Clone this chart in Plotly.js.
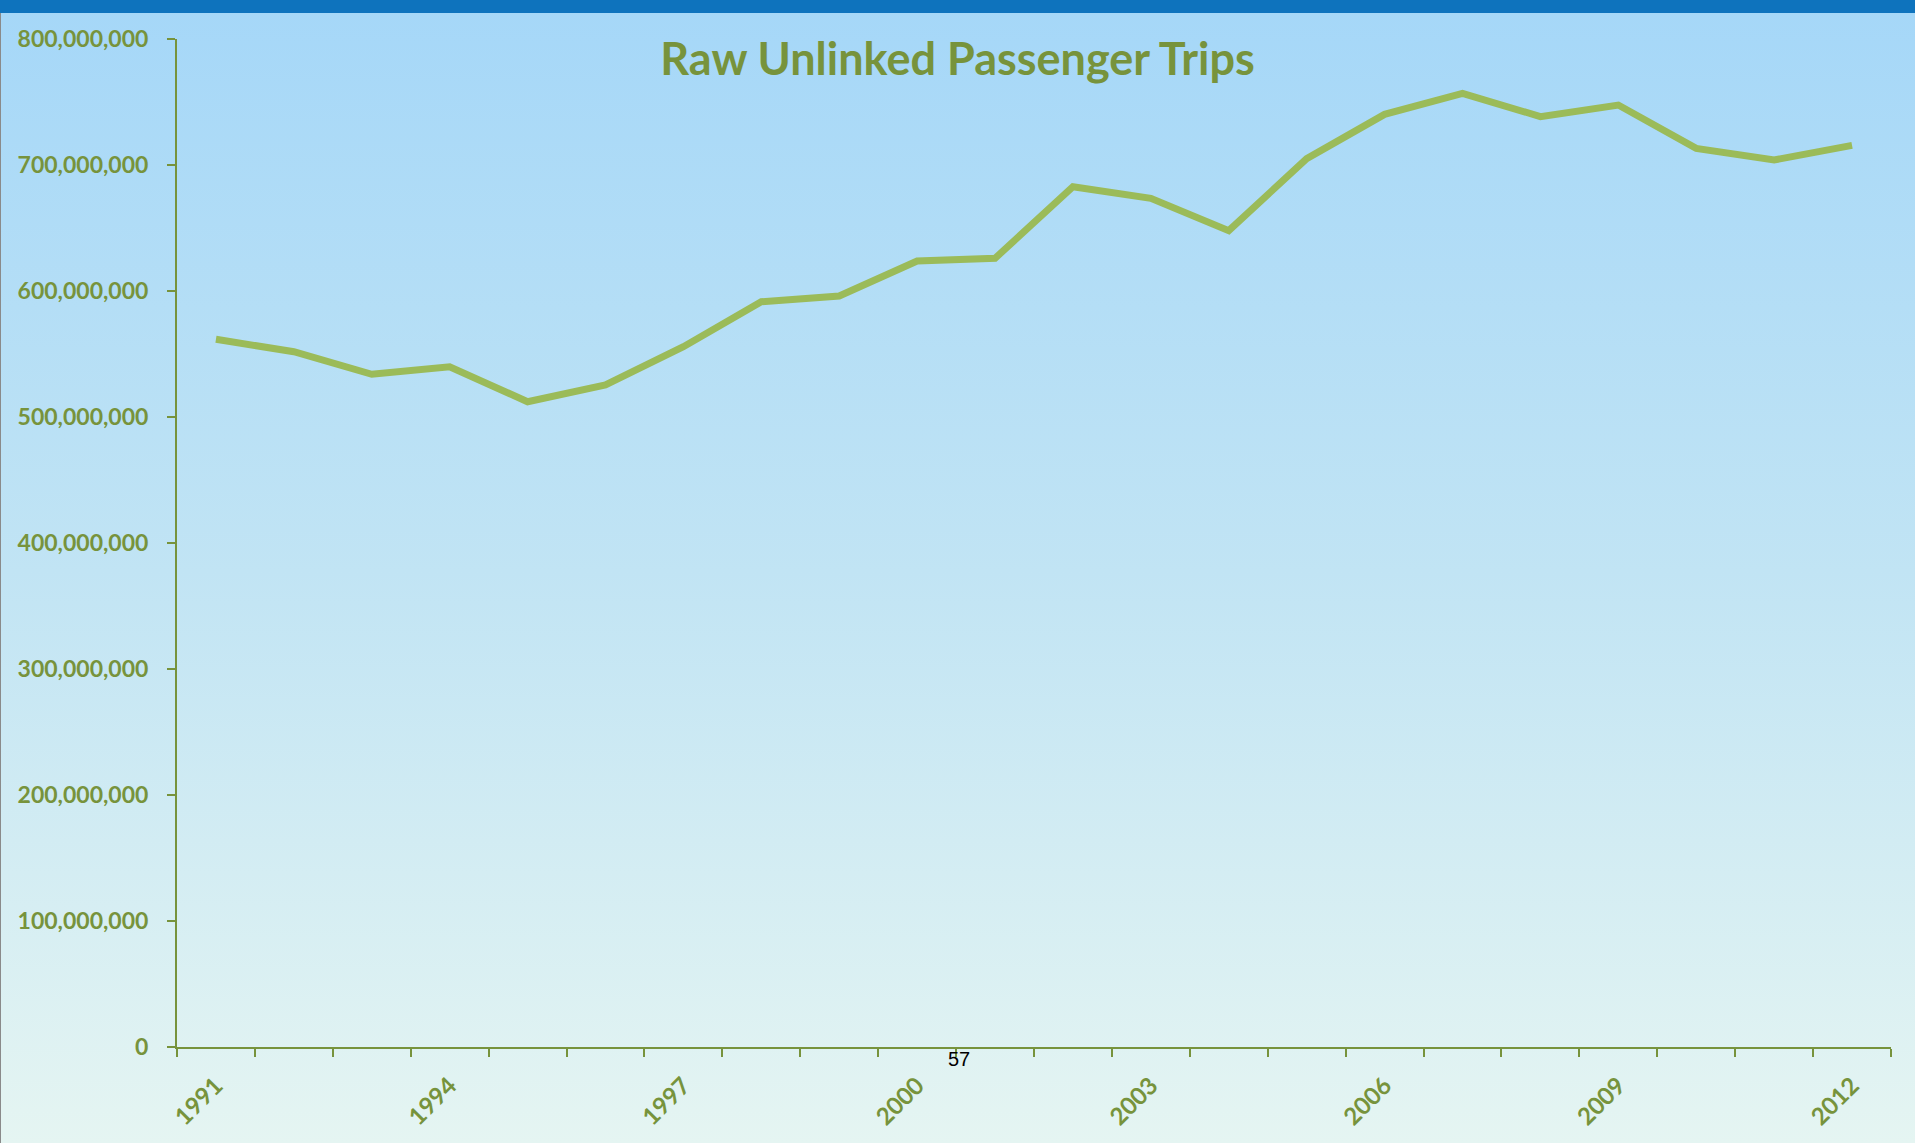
<!DOCTYPE html>
<html>
<head>
<meta charset="utf-8">
<script src="https://cdn.plot.ly/plotly-3.0.1.min.js"></script>
<style>
  html, body { margin: 0; padding: 0; width: 1915px; height: 1143px; overflow: hidden; }
  body { background: linear-gradient(to bottom, #a5d7f8 0%, #c1e4f4 50%, #e5f5f2 100%); position: relative; }
  #topbar { position: absolute; left: 0; top: 0; width: 1915px; height: 13px; background: #0e73bd; z-index: 2; }
  #leftedge { position: absolute; left: 0; top: 13px; width: 1px; height: 1130px; background: #8a8a8a; z-index: 2; }
  #chart { position: absolute; left: 0; top: 0; width: 1915px; height: 1143px; }
</style>
</head>
<body>
<div id="topbar"></div>
<div id="leftedge"></div>
<div id="chart"></div>
<script>
const years = [1991,1992,1993,1994,1995,1996,1997,1998,1999,2000,2001,2002,2003,2004,2005,2006,2007,2008,2009,2010,2011,2012];
const trips = [561700000,551800000,533900000,539900000,512100000,525400000,555800000,591500000,596000000,623800000,626000000,682800000,673500000,647900000,705000000,740200000,756900000,738400000,747600000,713200000,704000000,715600000];
const labelYears = [1991,1994,1997,2000,2003,2006,2009,2012];
const yTicks = [0,100000000,200000000,300000000,400000000,500000000,600000000,700000000,800000000];
const chartTitle = "Raw Unlinked Passenger Trips";
const slideNumber = "57";

const olive = "#77933c";
const lineGreen = "#9bbb59";
const font = "Lato, 'Open Sans', sans-serif";

// category boundaries for tick marks (Excel-style ticks between categories)
const boundaries = years.map(y => y - 0.5).concat([years[years.length - 1] + 0.5]);
const xRange = [boundaries[0], boundaries[boundaries.length - 1]];

const traces = [
  {
    x: years, y: trips, type: "scatter", mode: "lines",
    line: { color: lineGreen, width: 7, shape: "linear" },
    xaxis: "x", yaxis: "y", hoverinfo: "x+y", showlegend: false
  },
  {
    x: years, y: trips, type: "scatter", mode: "lines",
    line: { color: "rgba(0,0,0,0)", width: 0 },
    xaxis: "x2", yaxis: "y", hoverinfo: "skip", showlegend: false
  }
];

const layout = {
  width: 1915, height: 1143,
  paper_bgcolor: "rgba(0,0,0,0)", plot_bgcolor: "rgba(0,0,0,0)",
  margin: { l: 177, r: 24, t: 39, b: 96 },
  showlegend: false,
  title: {
    text: chartTitle,
    font: { family: font, size: 45, color: olive, weight: 700 },
    x: 0.5, xref: "container", xanchor: "center",
    y: 0.948, yref: "container", yanchor: "middle"
  },
  xaxis: {
    type: "linear", range: xRange,
    tickmode: "array", tickvals: boundaries, ticktext: boundaries.map(() => ""),
    showticklabels: false,
    ticks: "outside", ticklen: 8, tickwidth: 2, tickcolor: olive,
    showline: true, linecolor: olive, linewidth: 2,
    showgrid: false, zeroline: false, fixedrange: true
  },
  xaxis2: {
    type: "linear", range: xRange, overlaying: "x", anchor: "y", side: "bottom",
    tickmode: "array", tickvals: labelYears, ticktext: labelYears.map(String),
    tickangle: -45,
    ticks: "outside", ticklen: 14, tickcolor: "rgba(0,0,0,0)",
    tickfont: { family: font, size: 24, color: olive, weight: 700 },
    showline: false, showgrid: false, zeroline: false, fixedrange: true
  },
  yaxis: {
    range: [0, 800000000],
    tickmode: "array", tickvals: yTicks, tickformat: ",d",
    ticks: "outside", ticklen: 8, tickwidth: 2, tickcolor: olive,
    ticklabelstandoff: 14,
    tickfont: { family: font, size: 23, color: olive, weight: 700 },
    showline: true, linecolor: olive, linewidth: 2,
    showgrid: false, zeroline: false, fixedrange: true
  },
  annotations: [
    {
      text: slideNumber, xref: "paper", yref: "paper",
      x: 0.4563, y: -0.012, xanchor: "center", yanchor: "middle",
      showarrow: false,
      font: { family: "'Liberation Sans', Arial, sans-serif", size: 20, color: "#000000" }
    }
  ]
};

Plotly.newPlot("chart", traces, layout, { displayModeBar: false, staticPlot: true });
</script>
</body>
</html>
